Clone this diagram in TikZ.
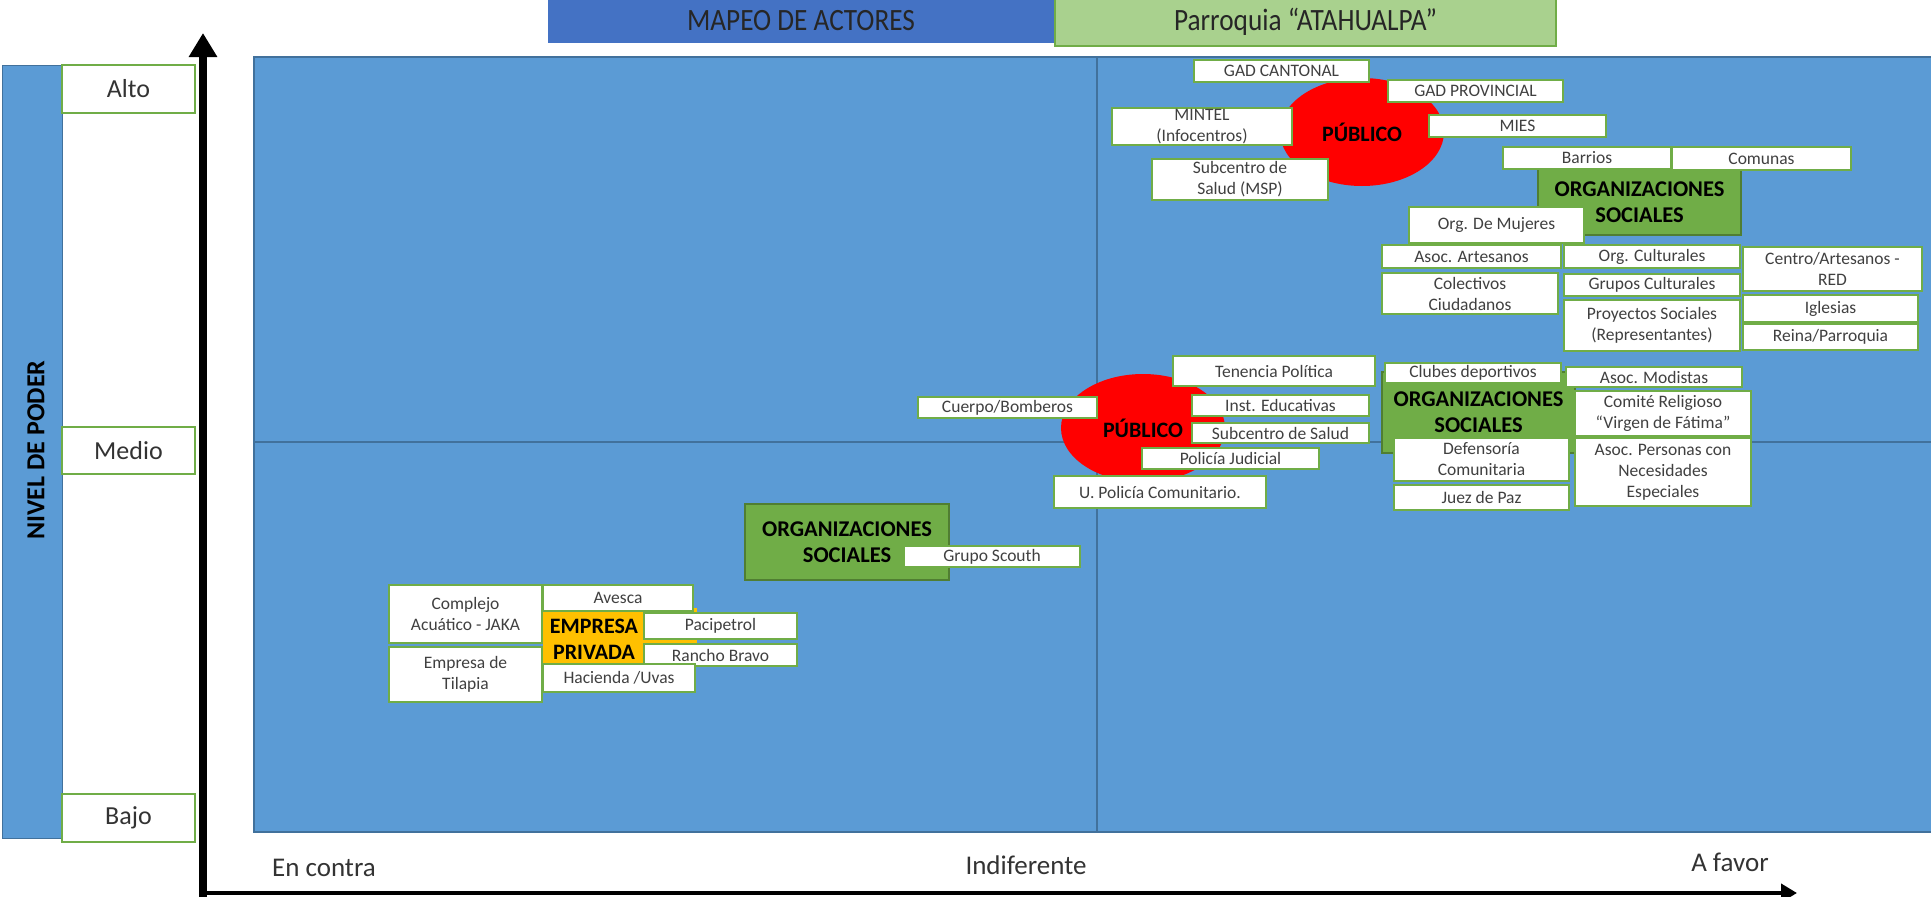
\documentclass[tikz,border=0pt]{standalone}
\usepackage{fontspec}
\setmainfont{Carlito}
\newfontfamily\ttlfont[FakeStretch=0.88]{Carlito}
\usetikzlibrary{shapes.geometric,arrows.meta}
\definecolor{plotblue}{HTML}{5B9BD5}
\definecolor{plotedge}{HTML}{41719C}
\definecolor{ttlblue}{HTML}{4472C4}
\definecolor{ttlgreen}{HTML}{A9D18E}
\definecolor{grn}{HTML}{70AD47}
\definecolor{grnedge}{HTML}{507E32}
\definecolor{ylw}{HTML}{FFC000}
\definecolor{txt}{HTML}{404040}
\tikzset{
 wbox/.style={draw=grn, line width=2.2pt, fill=white, inner sep=0pt, outer sep=0pt, align=center, text=txt, font=\fontsize{17.5}{21}\selectfont},
 gbox/.style={wbox, draw=grnedge, line width=1.5pt, fill=grn, text=black, font=\fontsize{22.5}{26}\selectfont\bfseries},
 ybox/.style={wbox, fill=ylw, draw=none},
 redell/.style={ellipse, fill=red, draw=none, inner sep=0pt, text=black, font=\fontsize{22}{26}\selectfont\bfseries},
 lvl/.style={wbox, line width=1.8pt, text=black!80, font=\fontsize{26}{30}\selectfont},
 axl/.style={inner sep=0pt, text=black!80, font=\fontsize{27}{32}\selectfont},
 ttl/.style={wbox, text=black!85, font=\ttlfont\fontsize{31}{36}\selectfont},
 quad/.style={draw=plotedge, line width=1.5pt},
}
\newcommand\bx[7][]{%
  \pgfmathsetmacro\bxcx{(#3+#5)/2}%
  \pgfmathsetmacro\bxcy{(#4+#6)/2}%
  \pgfmathsetmacro\bxw{#5-#3}%
  \pgfmathsetmacro\bxh{#6-#4}%
  \node[wbox,minimum width=\bxw pt,minimum height=\bxh pt,#1] (#2) at (\bxcx,\bxcy) {#7};}
\begin{document}
\begin{tikzpicture}[x=1pt,y=-1pt]
\useasboundingbox[fill=white] (0,0) rectangle (1931,897);
% titles
\bx[ttl, fill=ttlblue, draw=none]{t1}{548}{-2}{1054}{43}{MAPEO DE ACTORES}
\bx[ttl, fill=ttlgreen, draw=grn, line width=1.5pt]{t2}{1055}{-2}{1556}{46}{Parroquia “ATAHUALPA”}
% left bar
\bx[fill=plotblue, draw=plotedge, line width=1pt]{bar}{2}{65}{62}{838}{}
\node[rotate=90, inner sep=0pt, text=black, font=\fontsize{26}{30}\selectfont\bfseries] (np) at (36,450) {NIVEL DE PODER};
\bx[lvl]{alto}{62}{65}{195}{113}{Alto}
\bx[lvl]{medio}{62}{427}{195}{474}{Medio}
\bx[lvl]{bajo}{62}{794}{195}{842}{Bajo}
% plot area
\bx[fill=plotblue, draw=plotedge, line width=1.2pt]{plot}{254}{57}{1934}{832}{}
\coordinate (vt) at (1097,57);
\coordinate (vb) at (1097,832);
\coordinate (hl) at (254,442);
\coordinate (hr) at (1931,442);
\draw[quad] (vt) -- (vb);
\draw[quad] (hl) -- (hr);
% axes
\coordinate (ya0) at (203,897);
\coordinate (ya1) at (203,33);
\coordinate (xa0) at (203,893);
\coordinate (xa1) at (1797,893);
\draw[line width=8pt, -{Triangle[width=27pt,length=24pt]}] (ya0) -- (ya1);
\draw[line width=4pt, -{Triangle[width=18pt,length=16pt]}] (xa0) -- (xa1);
\node[axl] (enc) at (324,868) {En contra};
\node[axl] (ind) at (1026,865) {Indiferente};
\node[axl] (afa) at (1730,862) {A favor};
% red ellipses
\node[redell, minimum width=164pt, minimum height=108pt] (pub1) at (1362,132) {PÚBLICO};
\node[redell, minimum width=164pt, minimum height=108pt] (pub2) at (1143,428) {PÚBLICO};
% green boxes
\bx[gbox]{g1}{1538}{169}{1741}{235}{ORGANIZACIONES\\SOCIALES}
\bx[gbox]{g2}{1382}{372}{1575}{453}{ORGANIZACIONES\\SOCIALES}
\bx[gbox]{g3}{745}{504}{949}{580}{ORGANIZACIONES\\SOCIALES}
% yellow
\bx[ybox]{y1}{543}{608}{697}{663}{}
\node[inner sep=0pt, align=center, text=black, font=\fontsize{22}{26}\selectfont\bfseries] (emp) at (594,639) {EMPRESA\\PRIVADA};
% white boxes top
\bx{gadc}{1194}{60}{1369}{82}{GAD CANTONAL}
\bx{gadp}{1388}{80}{1563}{102}{GAD PROVINCIAL}
\bx{mintel}{1112}{108}{1292}{145}{MINTEL\\(Infocentros)}
\bx{mies}{1429}{115}{1606}{137}{MIES}
\bx{subm}{1152}{159}{1328}{200}{Subcentro de\\Salud (MSP)}
\bx{barr}{1503}{147}{1671}{169}{Barrios}
\bx{comu}{1672}{147}{1851}{170}{Comunas}
\bx{muj}{1409}{207}{1584}{243}{Org. De Mujeres}
\bx{asart}{1382}{245}{1561}{268}{Asoc. Artesanos}
\bx{orgc}{1564}{245}{1740}{268}{Org. Culturales}
\bx{cent}{1743}{247}{1922}{291}{Centro/Artesanos -\\RED}
\bx{colec}{1382}{273}{1558}{314}{Colectivos\\Ciudadanos}
\bx{grupc}{1564}{274}{1740}{296}{Grupos Culturales}
\bx{proy}{1564}{300}{1740}{351}{Proyectos Sociales\\(Representantes)}
\bx{igl}{1743}{295}{1918}{322}{Iglesias}
\bx{reina}{1743}{324}{1918}{350}{Reina/Parroquia}
% white boxes middle
\bx{ten}{1173}{356}{1375}{386}{Tenencia Política}
\bx{bomb}{918}{397}{1097}{418}{Cuerpo/Bomberos}
\bx{inst}{1192}{395}{1369}{416}{Inst. Educativas}
\bx{subs}{1192}{423}{1369}{443}{Subcentro de Salud}
\bx{polj}{1142}{448}{1319}{469}{Policía Judicial}
\bx{upc}{1054}{476}{1266}{508}{U. Policía Comunitario.}
\bx{club}{1385}{363}{1561}{383}{Clubes deportivos}
\bx{modi}{1566}{367}{1742}{387}{Asoc. Modistas}
\bx{comi}{1575}{391}{1751}{436}{Comité Religioso\\“Virgen de Fátima”}
\bx{defe}{1394}{438}{1569}{481}{Defensoría\\Comunitaria}
\bx{pers}{1575}{438}{1751}{506}{Asoc. Personas con\\Necesidades\\Especiales}
\bx{juez}{1394}{485}{1569}{510}{Juez de Paz}
% white boxes low
\bx{scout}{904}{546}{1080}{567}{Grupo Scouth}
\bx{jaka}{389}{585}{542}{643}{Complejo\\Acuático - JAKA}
\bx{tila}{389}{647}{542}{702}{Empresa de\\Tilapia}
\bx{aves}{543}{585}{693}{611}{Avesca}
\bx{paci}{644}{613}{797}{639}{Pacipetrol}
\bx{ranc}{644}{644}{797}{666}{Rancho Bravo}
\bx{haci}{543}{664}{695}{692}{Hacienda /Uvas}
\end{tikzpicture}
\end{document}
